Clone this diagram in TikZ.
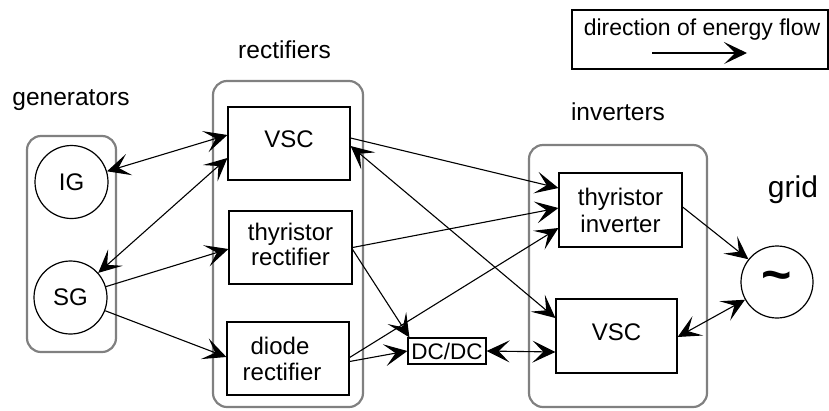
\documentclass[tikz,border=0pt]{standalone}
\usepackage{fontspec}
\setmainfont{Liberation Sans}
\usetikzlibrary{arrows.meta,calc}
\begin{document}
\begin{tikzpicture}[x=1pt,y=-1pt,
  group/.style={draw=black!50, line width=2.2pt, rounded corners=14pt, inner sep=0pt},
  box/.style={draw, line width=1.2pt, inner sep=0pt, align=center,
    font=\fontsize{24}{26}\selectfont},
  gen/.style={draw, circle, line width=1.2pt, inner sep=0pt, minimum size=73pt,
    font=\fontsize{24}{26}\selectfont},
  head/.style={anchor=base, inner sep=0pt, font=\fontsize{24.5}{26}\selectfont},
  flow/.style={line width=1.1pt, -{Stealth[length=23pt,width=22pt,inset=11pt]}},
  bflow/.style={line width=1.1pt, {Stealth[length=23pt,width=22pt,inset=11pt]}-{Stealth[length=23pt,width=22pt,inset=11pt]}}
]
\useasboundingbox (0,0) rectangle (829,410);

% groups
\node[group, minimum width=89pt, minimum height=216pt] (gengrp) at (71.5,244) {};
\node[group, minimum width=150pt, minimum height=326pt] (recgrp) at (288,244) {};
\node[group, minimum width=178pt, minimum height=262pt] (invgrp) at (618,276) {};

% headings
\node[head] (genlbl) at (71,105) {generators};
\node[head] (reclbl) at (284.5,58) {rectifiers};
\node[head] (invlbl) at (618,120) {inverters};
\node[head, font=\fontsize{30}{32}\selectfont] (gridlbl) at (793,197) {grid};

% generators
\node[gen] (ig) at (71.5,182) {IG};
\node[gen] (sg) at (70.5,297.5) {SG};

% rectifiers
\node[box, minimum width=122pt, minimum height=73pt] (vscR) at (289,143.5) {\raisebox{4pt}[\height][\depth]{VSC}};
\node[box, minimum width=123pt, minimum height=73pt] (thyR) at (290.5,247.5) {\begin{tabular}{@{}c@{}}thyristor\\[-1pt]rectifier\end{tabular}};
\node[box, minimum width=122pt, minimum height=73pt] (dioR) at (288,358.5) {diode\hspace*{16pt}\\rectifier\hspace*{12pt}};

% inverters
\node[box, minimum width=123pt, minimum height=74pt] (thyI) at (620.5,210) {thyristor\\[1pt]inverter};
\node[box, minimum width=121pt, minimum height=74pt] (vscI) at (616.5,336) {\raisebox{4pt}[\height][\depth]{VSC}};

% dc/dc
\node[box, minimum width=78pt, minimum height=26pt, font=\fontsize{22.5}{24}\selectfont] (dcdc) at (447,351) {DC/DC};

% grid
\node[gen, minimum size=72pt, font=\bfseries\fontsize{52}{52}\selectfont] (grid) at (777,282) {\textasciitilde};

% legend
\node[draw, line width=1.2pt, minimum width=256pt, minimum height=59pt, inner sep=0pt] (legend) at (700,39.5) {};
\node[anchor=base, inner sep=0pt, font=\fontsize{23}{25}\selectfont] (legtxt) at (702,35) {direction of energy flow};
\coordinate (la) at (652,53);
\coordinate (lb) at (747,53);
\draw[flow] (la) -- (lb);

% connectors
\draw[bflow] (ig) -- ($(vscR.west)+(0,-8.5)$);
\draw[bflow] (sg) -- ($(vscR.west)+(0,14.5)$);
\draw[flow] (sg) -- ($(thyR.west)+(0,1.5)$);
\draw[flow] (sg) -- ($(dioR.west)+(0,-1.5)$);
\draw[flow] ($(vscR.east)+(0,-5.5)$) -- ($(thyI.west)+(0,-22)$);
\draw[bflow] ($(vscR.east)+(0,2.5)$) -- ($(vscI.west)+(0,-18)$);
\draw[flow] (thyR.east) -- ($(thyI.west)+(0,-2)$);
\draw[flow] ($(thyR.east)+(0,2)$) -- ($(dcdc.north west)+(2,0)$);
\draw[flow] ($(dioR.east)+(0,-1)$) -- ($(thyI.west)+(0,18)$);
\draw[flow] ($(dioR.east)+(0,3)$) -- (dcdc.west);
\draw[bflow] (dcdc.east) -- ($(vscI.west)+(0,16)$);
\draw[flow] ($(thyI.east)+(0,-3)$) -- (grid);
\draw[bflow] (grid) -- ($(vscI.east)+(0,1)$);
\end{tikzpicture}
\end{document}
